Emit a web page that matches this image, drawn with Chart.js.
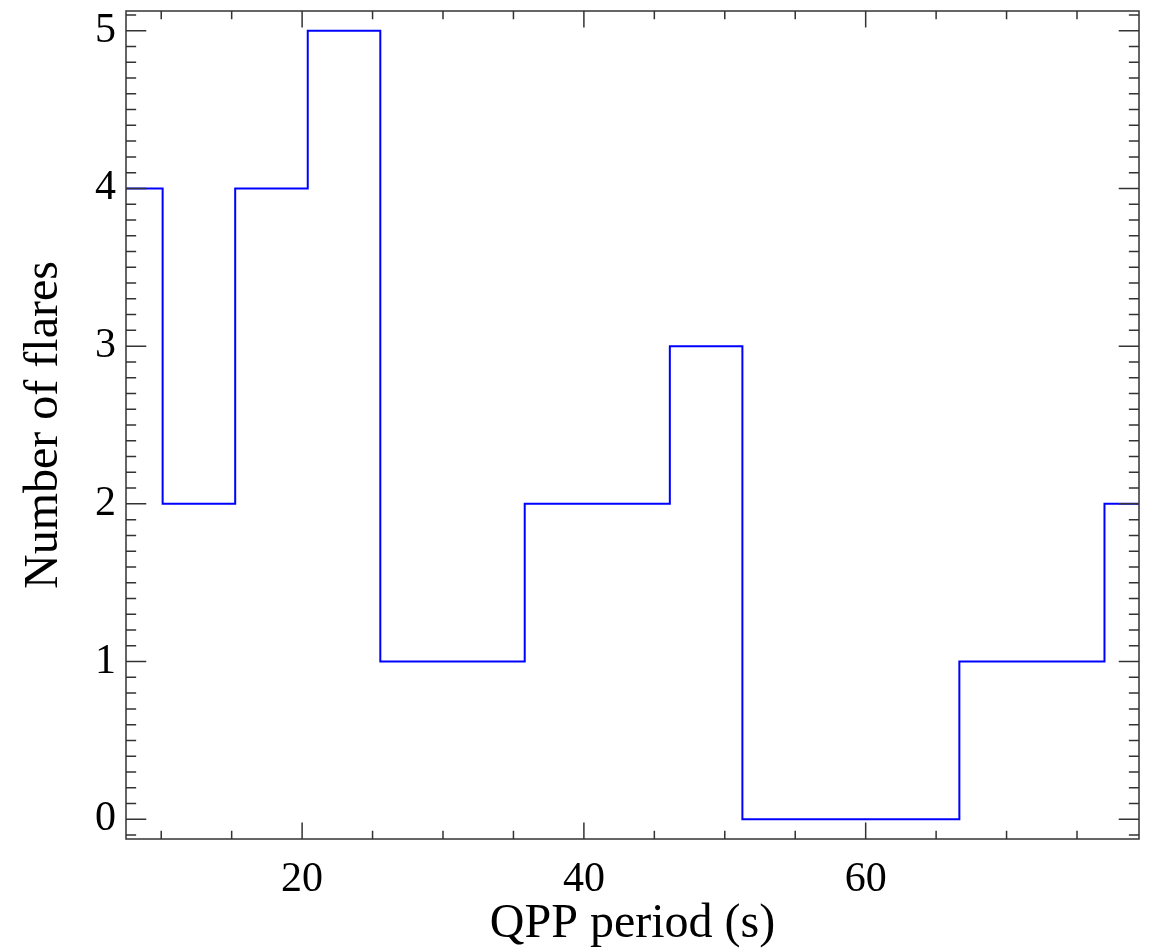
<!DOCTYPE html>
<html>
<head>
<meta charset="utf-8">
<script src="https://cdn.jsdelivr.net/npm/chart.js@4/dist/chart.umd.min.js"></script>
<style>
  html, body { margin: 0; padding: 0; background: #fff; }
  #chart { display: block; }
</style>
</head>
<body>
<canvas id="chart" width="1151" height="949"></canvas>
<script>
// bin centres (s) and counts
const periods = [7.5, 12.7, 17.8, 23.0, 28.1, 33.2, 38.4, 43.5, 48.7, 53.8, 58.9, 64.1, 69.2, 74.4, 79.5];
const flares  = [4, 2, 4, 5, 1, 1, 2, 2, 3, 0, 0, 0, 1, 1, 2];

// axis ticks
const xMajor = [20, 40, 60];
const xMinor = [10, 15, 25, 30, 35, 45, 50, 55, 65, 70, 75];
const yMajor = [0, 1, 2, 3, 4, 5];

const FONT = "'Liberation Serif', 'Times New Roman', serif";

// minor y ticks every 0.1
const yMinor = [];
for (let i = -1; i <= 51; i++) {
    const v = i / 10;
    if (i % 10 !== 0 && v > -0.125 && v < 5.125) yMinor.push(v);
}

// frame and inward ticks on all four sides (IDL style)
const frameTicks = {
    id: 'frameTicks',
    afterDraw(chart) {
        const { ctx, chartArea: a, scales } = chart;
        const xs = scales.x, ys = scales.y;
        const w = a.right - a.left, h = a.bottom - a.top;
        ctx.save();
        ctx.strokeStyle = '#333';
        ctx.lineWidth = 1.5;
        ctx.strokeRect(a.left, a.top, w, h);
        ctx.beginPath();
        const xTick = (v, len) => {
            const px = xs.getPixelForValue(v);
            ctx.moveTo(px, a.bottom); ctx.lineTo(px, a.bottom - len);
            ctx.moveTo(px, a.top); ctx.lineTo(px, a.top + len);
        };
        const yTick = (v, len) => {
            const py = ys.getPixelForValue(v);
            ctx.moveTo(a.left, py); ctx.lineTo(a.left + len, py);
            ctx.moveTo(a.right, py); ctx.lineTo(a.right - len, py);
        };
        xMajor.forEach(v => xTick(v, 0.02 * h));
        xMinor.forEach(v => xTick(v, 0.01 * h));
        yMajor.forEach(v => yTick(v, 0.02 * w));
        yMinor.forEach(v => yTick(v, 0.01 * w));
        ctx.stroke();
        ctx.restore();
    }
};

new Chart(document.getElementById('chart'), {
    type: 'line',
    data: {
        datasets: [{
            data: periods.map((p, i) => ({ x: p, y: flares[i] })),
            borderColor: '#0000ff',
            borderWidth: 2,
            pointRadius: 0,
            stepped: 'middle',
            fill: false
        }]
    },
    options: {
        responsive: false,
        animation: false,
        devicePixelRatio: 1,
        layout: { padding: { top: 11, right: 12, left: 0, bottom: 0 } },
        plugins: { legend: { display: false }, tooltip: { enabled: false } },
        scales: {
            x: {
                type: 'linear',
                min: 7.5,
                max: 79.4,
                afterBuildTicks: s => { s.ticks = xMajor.map(v => ({ value: v })); },
                afterFit: s => { s.height = 110; s.paddingLeft = 0; s.paddingRight = 0; },
                grid: { display: false, drawTicks: false },
                border: { display: false },
                ticks: {
                    font: { family: FONT, size: 42 },
                    color: '#000',
                    padding: 16,
                    maxRotation: 0
                },
                title: {
                    display: true,
                    text: 'QPP period (s)',
                    font: { family: FONT, size: 48 },
                    color: '#000',
                    padding: { top: 0, bottom: -4 }
                }
            },
            y: {
                min: -0.125,
                max: 5.125,
                afterBuildTicks: s => { s.ticks = yMajor.map(v => ({ value: v })); },
                afterFit: s => { s.width = 126; s.paddingTop = 0; s.paddingBottom = 0; },
                grid: { display: false, drawTicks: false },
                border: { display: false },
                ticks: {
                    font: { family: FONT, size: 42 },
                    color: '#000',
                    padding: 10
                },
                title: {
                    display: true,
                    text: 'Number of flares',
                    font: { family: FONT, size: 48 },
                    color: '#000',
                    padding: { top: 16, bottom: 0 }
                }
            }
        }
    },
    plugins: [frameTicks]
});
</script>
</body>
</html>
